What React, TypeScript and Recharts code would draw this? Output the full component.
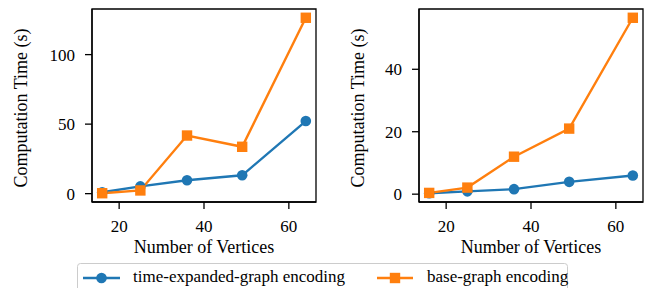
import React from 'react';
import { LineChart, Line, XAxis, YAxis, ReferenceArea } from 'recharts';

const vertices = [16, 25, 36, 49, 64];
const leftTimeExpanded = [1.0, 5.2, 9.6, 13.2, 52.2];
const leftBaseGraph = [0.3, 2.3, 41.8, 33.7, 126.5];
const rightTimeExpanded = [0.3, 0.9, 1.6, 3.95, 6.0];
const rightBaseGraph = [0.4, 2.1, 12.0, 21.0, 56.5];
const xTicks = [20, 40, 60];
const leftYTicks = [0, 50, 100];
const rightYTicks = [0, 20, 40];
const seriesNames = ['time-expanded-graph encoding', 'base-graph encoding'];
const xLabel = 'Number of Vertices';
const yLabel = 'Computation Time (s)';

const BLUE = '#1f77b4';
const ORANGE = '#ff7f0e';
const FONT = "'Liberation Serif', 'Times New Roman', serif";

function pad(vals: number[]): [number, number] {
  const mn = Math.min(...vals);
  const mx = Math.max(...vals);
  const r = mx - mn;
  return [mn - 0.05 * r, mx + 0.05 * r];
}

const SquareDot = (props: any) => {
  const { cx, cy, index } = props;
  if (cx == null || cy == null) return null;
  return <rect key={'sq' + index} x={cx - 5.2} y={cy - 5.2} width={10.4} height={10.4} fill={ORANGE} />;
};

function Panel({ a, b, yTicks, yLabelX }: { a: number[]; b: number[]; yTicks: number[]; yLabelX: number }) {
  const data = vertices.map((v, i) => ({ x: v, a: a[i], b: b[i] }));
  const xDomain = pad(vertices);
  const yDomain = pad([...a, ...b]);
  const tickStyle = { fill: '#000', fontSize: 17, fontFamily: FONT };
  const axisLine = { stroke: '#000', strokeWidth: 1.3 };
  return (
    <LineChart width={330} height={260} data={data} margin={{ top: 9, right: 14, bottom: 0, left: 0 }}>
      <XAxis
        dataKey="x"
        type="number"
        domain={xDomain}
        allowDataOverflow
        ticks={xTicks}
        height={58}
        tickSize={7}
        tickMargin={11}
        tick={tickStyle}
        axisLine={axisLine}
        tickLine={axisLine}
        label={{
          content: (p: any) => {
            const vb = p.viewBox || { x: 92, width: 224 };
            return (
              <text x={vb.x + vb.width / 2} y={253} textAnchor="middle" fontSize={18} fontFamily={FONT} fill="#000">
                {xLabel}
              </text>
            );
          },
        }}
      />
      <YAxis
        type="number"
        domain={yDomain}
        allowDataOverflow
        ticks={yTicks}
        width={92}
        tickSize={7}
        tickMargin={10}
        tick={tickStyle}
        axisLine={axisLine}
        tickLine={axisLine}
        label={{
          content: () => (
            <text x={yLabelX} y={108} transform={`rotate(-90, ${yLabelX}, 108)`} textAnchor="middle" fontSize={18} fontFamily={FONT} fill="#000">
              {yLabel}
            </text>
          ),
        }}
      />
      <ReferenceArea x1={xDomain[0]} x2={xDomain[1]} y1={yDomain[0]} y2={yDomain[1]} ifOverflow="visible" fill="none" fillOpacity={0} stroke="#000" strokeWidth={1.3} />
      <Line dataKey="a" stroke={BLUE} strokeWidth={2.4} isAnimationActive={false} dot={{ r: 5.3, fill: BLUE, stroke: BLUE, strokeWidth: 0 }} />
      <Line dataKey="b" stroke={ORANGE} strokeWidth={2.4} isAnimationActive={false} dot={<SquareDot />} />
    </LineChart>
  );
}

export default function App() {
  return (
    <div style={{ position: 'absolute', left: 0, top: 0, width: 653, height: 288, overflow: 'hidden', background: '#fff' }}>
      <div style={{ position: 'absolute', left: 0, top: 0 }}>
        <Panel a={leftTimeExpanded} b={leftBaseGraph} yTicks={leftYTicks} yLabelX={27} />
      </div>
      <div style={{ position: 'absolute', left: 327, top: 0 }}>
        <Panel a={rightTimeExpanded} b={rightBaseGraph} yTicks={rightYTicks} yLabelX={37} />
      </div>
      <svg width={653} height={288} style={{ position: 'absolute', left: 0, top: 0 }}>
        <rect x={77.5} y={263.5} width={490} height={40} rx={3} fill="#fff" stroke="#cccccc" strokeWidth={1} />
        <line x1={83} y1={278} x2={120} y2={278} stroke={BLUE} strokeWidth={2.4} />
        <circle cx={101.5} cy={278} r={5.3} fill={BLUE} />
        <text x={133} y={282} fontSize={17} fill="#000" fontFamily={FONT}>{seriesNames[0]}</text>
        <line x1={377} y1={278} x2={413} y2={278} stroke={ORANGE} strokeWidth={2.4} />
        <rect x={389.8} y={272.8} width={10.4} height={10.4} fill={ORANGE} />
        <text x={427} y={282} fontSize={17} fill="#000" fontFamily={FONT}>{seriesNames[1]}</text>
      </svg>
    </div>
  );
}
